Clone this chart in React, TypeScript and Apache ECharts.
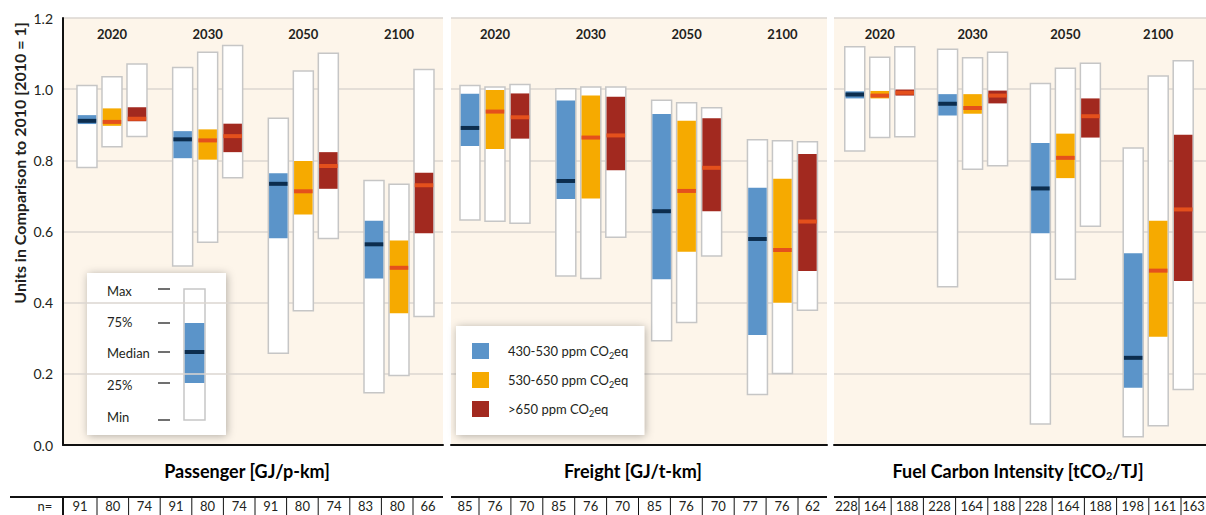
import React, { useEffect, useRef } from "react";
import * as echarts from "echarts";

const FONT = "Lato, 'Noto Sans', sans-serif";

const years = ["2020", "2030", "2050", "2100"];
const scenarioNames = ["430-530 ppm CO2eq", "530-650 ppm CO2eq", ">650 ppm CO2eq"];
const panelTitles = ["Passenger [GJ/p-km]", "Freight [GJ/t-km]", "Fuel Carbon Intensity [tCO2/TJ]"];
const yTicks = [0, 0.2, 0.4, 0.6, 0.8, 1.0, 1.2];

// each row: [min, 25%, median, 75%, max] for 2020, 2030, 2050, 2100
const passenger430 = [[0.780, 0.902, 0.911, 0.927, 1.010], [0.503, 0.806, 0.859, 0.882, 1.061], [0.258, 0.581, 0.734, 0.764, 0.918], [0.147, 0.468, 0.564, 0.630, 0.743]];
const passenger530 = [[0.838, 0.897, 0.908, 0.946, 1.035], [0.570, 0.802, 0.856, 0.887, 1.104], [0.377, 0.648, 0.713, 0.798, 1.051], [0.195, 0.370, 0.498, 0.575, 0.733]];
const passenger650 = [[0.867, 0.910, 0.917, 0.949, 1.071], [0.751, 0.823, 0.868, 0.903, 1.123], [0.580, 0.720, 0.784, 0.823, 1.101], [0.361, 0.595, 0.730, 0.765, 1.055]];

const freight430 = [[0.632, 0.840, 0.891, 0.987, 1.010], [0.475, 0.691, 0.742, 0.968, 1.001], [0.293, 0.466, 0.657, 0.930, 0.969], [0.142, 0.309, 0.579, 0.723, 0.858]];
const freight530 = [[0.629, 0.832, 0.937, 0.998, 1.006], [0.468, 0.693, 0.864, 0.982, 1.006], [0.344, 0.543, 0.714, 0.911, 0.962], [0.201, 0.400, 0.548, 0.748, 0.855]];
const freight650 = [[0.623, 0.861, 0.921, 0.988, 1.013], [0.584, 0.772, 0.870, 0.979, 1.006], [0.531, 0.657, 0.779, 0.918, 0.948], [0.379, 0.489, 0.628, 0.818, 0.852]];

const fuel430 = [[0.826, 0.974, 0.985, 0.994, 1.119], [0.445, 0.926, 0.959, 0.986, 1.112], [0.059, 0.595, 0.721, 0.849, 1.016], [0.023, 0.161, 0.245, 0.539, 0.835]];
const fuel530 = [[0.864, 0.974, 0.982, 0.995, 1.090], [0.775, 0.931, 0.947, 0.986, 1.088], [0.466, 0.750, 0.807, 0.875, 1.059], [0.054, 0.304, 0.490, 0.630, 1.037]];
const fuel650 = [[0.866, 0.982, 0.990, 0.999, 1.119], [0.785, 0.960, 0.982, 0.996, 1.104], [0.615, 0.864, 0.924, 0.974, 1.073], [0.156, 0.461, 0.662, 0.872, 1.080]];

const passengerN = [91, 80, 74, 91, 80, 74, 91, 80, 74, 83, 80, 66];
const freightN = [85, 76, 70, 85, 76, 70, 85, 76, 70, 77, 76, 62];
const fuelN = [228, 164, 188, 228, 164, 188, 228, 164, 188, 198, 161, 163];

const explainLabels = ["Max", "75%", "Median", "25%", "Min"];

const panelData = [
  [passenger430, passenger530, passenger650],
  [freight430, freight530, freight650],
  [fuel430, fuel530, fuel650],
];
const panelN = [passengerN, freightN, fuelN];

const COLORS = ["#5b94c9", "#f6aa00", "#a2291f"];
const MEDIAN_COLORS = ["#0c2d4e", "#e4501c", "#e4501c"];
const BG = "#fdf5ea";
const GRIDLINE = "#dbd6d0";
const BOX_BORDER = "#c6c6c6";
const INK = "#231f20";

// layout
const GRIDS = [
  { left: 63, width: 380, xmin: -0.512, xmax: 3.46 },
  { left: 451, width: 376, xmin: -0.459, xmax: 3.465 },
  { left: 834, width: 382, xmin: -0.493, xmax: 3.515 },
];
const TOP = 18;
const HEIGHT = 427;
const BOX_W = 20;
const MEMBER_GAP = 25;
const TABLE = [
  { start: 63, firstDiv: 97, step: 31.6, end: 443, lineStart: 10 },
  { start: 451, firstDiv: 479, step: 31.9, end: 827, lineStart: 451 },
  { start: 834, firstDiv: 859, step: 32.2, end: 1206, lineStart: 834 },
];
const TITLE_X = [247, 633, 1018];

const subRich = (size: number, lh: number) => ({
  n: { fontSize: size, fontFamily: FONT, fontWeight: "bold", color: INK, lineHeight: lh },
  s: { fontSize: Math.round(size * 0.6), fontFamily: FONT, fontWeight: "bold", color: INK, lineHeight: 10, verticalAlign: "bottom" },
});

function withSub(t: string, cls: string) {
  return t
    .split("CO2")
    .map((p) => (p ? `{${cls}|${p}}` : ""))
    .join(`{${cls}|CO}{s|2}`);
}

function makeRender(member: number, fill: string, medianFill: string) {
  return (params: any, api: any) => {
    const g = api.value(0);
    const cx = api.coord([g, 0])[0] + (member - 1) * MEMBER_GAP;
    const y = (v: number) => api.coord([g, v])[1];
    const yMin = y(api.value(1));
    const yQ1 = y(api.value(2));
    const yMd = y(api.value(3));
    const yQ3 = y(api.value(4));
    const yMax = y(api.value(5));
    const x0 = cx - BOX_W / 2;
    const children: any[] = [
      { type: "rect", shape: { x: x0, y: yMax, width: BOX_W, height: yMin - yMax }, style: { fill: "#ffffff", stroke: BOX_BORDER, lineWidth: 1.5 } },
      { type: "rect", shape: { x: x0 + 0.75, y: yQ3, width: BOX_W - 1.5, height: yQ1 - yQ3 }, style: { fill } },
      { type: "rect", shape: { x: x0 + 0.75, y: yMd - 2, width: BOX_W - 1.5, height: 4 }, style: { fill: medianFill } },
    ];
    if (member === 1) {
      children.push({
        type: "text",
        x: cx,
        y: params.coordSys.y + 16,
        style: { text: years[g], align: "center", verticalAlign: "middle", fontSize: 13, fontWeight: "bold", fontFamily: FONT, fill: INK },
      });
    }
    return { type: "group", children };
  };
}

function buildGraphics() {
  const els: any[] = [];
  // y axis name
  els.push({
    type: "text",
    x: 19,
    y: 163,
    rotation: Math.PI / 2,
    style: { text: "Units in Comparison to 2010 [2010 = 1]", align: "center", verticalAlign: "middle", fontSize: 16, fontWeight: "bold", fontFamily: FONT, fill: INK },
  });
  // bottom axis lines of the panels
  GRIDS.forEach((g) => {
    els.push({ type: "line", z: 50, shape: { x1: g.left, y1: TOP + HEIGHT, x2: g.left + g.width, y2: TOP + HEIGHT }, style: { stroke: "#111", lineWidth: 2 } });
  });
  // panel titles
  panelTitles.forEach((t, i) => {
    els.push({
      type: "text",
      x: TITLE_X[i],
      y: 471,
      style: { text: withSub(t, "n"), rich: subRich(18, 20), align: "center", verticalAlign: "middle", fontFamily: FONT },
    });
  });
  // n= table
  els.push({ type: "text", x: 45, y: 506, style: { text: "n=", align: "center", verticalAlign: "middle", fontSize: 13, fontFamily: FONT, fill: INK } });
  TABLE.forEach((tb, p) => {
    els.push({ type: "line", shape: { x1: tb.lineStart, y1: 497, x2: tb.end, y2: 497 }, style: { stroke: "#111", lineWidth: 2 } });
    if (p === 0) {
      els.push({ type: "line", shape: { x1: tb.start, y1: 497, x2: tb.start, y2: 515 }, style: { stroke: "#111", lineWidth: 2 } });
    }
    panelN[p].forEach((n, k) => {
      const left = k === 0 ? tb.start : tb.firstDiv + (k - 1) * tb.step;
      const right = k === 11 ? tb.end : tb.firstDiv + k * tb.step;
      if (k < 11) {
        els.push({ type: "line", shape: { x1: right, y1: 497, x2: right, y2: 515 }, style: { stroke: "#111", lineWidth: 1 } });
      }
      els.push({ type: "text", x: (left + right) / 2, y: 506, style: { text: String(n), align: "center", verticalAlign: "middle", fontSize: 13, fontFamily: FONT, fill: INK } });
    });
  });
  // box explanation legend
  const ex: any[] = [];
  ex.push({ type: "rect", shape: { x: 87, y: 273, width: 139, height: 162 }, style: { fill: "#ffffff", shadowBlur: 8, shadowColor: "rgba(0,0,0,0.3)", shadowOffsetX: 1, shadowOffsetY: 1 } });
  const lblY = [291, 322, 353, 385, 417];
  const dashY = [289, 323, 352, 383, 420];
  explainLabels.forEach((l, i) => {
    ex.push({ type: "text", x: 107, y: lblY[i], style: { text: l, align: "left", verticalAlign: "middle", fontSize: 13, fontFamily: FONT, fill: INK } });
    ex.push({ type: "line", shape: { x1: 158, y1: dashY[i], x2: 170, y2: dashY[i] }, style: { stroke: "#111", lineWidth: 1.2 } });
  });
  ex.push({ type: "rect", shape: { x: 184, y: 289, width: 21, height: 131 }, style: { fill: "#fff", stroke: BOX_BORDER, lineWidth: 1.5 } });
  ex.push({ type: "rect", shape: { x: 184.75, y: 323, width: 19.5, height: 60 }, style: { fill: COLORS[0] } });
  ex.push({ type: "rect", shape: { x: 184.75, y: 350, width: 19.5, height: 4 }, style: { fill: MEDIAN_COLORS[0] } });
  els.push({ type: "group", z: 100, children: ex });
  return els;
}

function buildOption() {
  const grid = GRIDS.map((g) => ({
    left: g.left,
    top: TOP,
    width: g.width,
    height: HEIGHT,
    show: true,
    backgroundColor: BG,
    borderWidth: 0,
    containLabel: false,
  }));
  const xAxis = GRIDS.map((g, i) => ({
    type: "value",
    gridIndex: i,
    min: g.xmin,
    max: g.xmax,
    position: "bottom",
    axisLine: { show: true, onZero: false, lineStyle: { color: "#111", width: 2 } },
    axisTick: { show: false },
    axisLabel: { show: false },
    splitLine: { show: false },
  }));
  const yAxis = GRIDS.map((g, i) => ({
    type: "value",
    gridIndex: i,
    min: yTicks[0],
    max: yTicks[yTicks.length - 1],
    interval: 0.2,
    position: "left",
    axisLine: { show: i === 0, onZero: false, lineStyle: { color: "#111", width: 2 } },
    axisTick: { show: false },
    axisLabel: {
      show: i === 0,
      formatter: (v: number) => v.toFixed(1),
      fontSize: 14,
      fontFamily: FONT,
      color: INK,
      margin: 10,
    },
    splitLine: { show: true, lineStyle: { color: GRIDLINE, width: 1.5 } },
  }));
  const series: any[] = [];
  panelData.forEach((scen, p) => {
    scen.forEach((rows, s) => {
      series.push({
        type: "custom",
        name: scenarioNames[s],
        xAxisIndex: p,
        yAxisIndex: p,
        coordinateSystem: "cartesian2d",
        itemStyle: { color: COLORS[s] },
        renderItem: makeRender(s, COLORS[s], MEDIAN_COLORS[s]),
        encode: { x: 0, y: [1, 2, 3, 4, 5] },
        data: rows.map((r, g) => [g, ...r]),
        clip: false,
        silent: true,
      });
    });
  });
  return {
    animation: false,
    grid,
    xAxis,
    yAxis,
    series,
    legend: {
      data: scenarioNames,
      orient: "vertical",
      left: 456,
      top: 326,
      padding: [17, 16, 17, 16],
      itemWidth: 17,
      itemHeight: 16,
      itemGap: 12,
      icon: "rect",
      backgroundColor: "#ffffff",
      shadowBlur: 8,
      shadowColor: "rgba(0,0,0,0.3)",
      shadowOffsetX: 1,
      shadowOffsetY: 1,
      selectedMode: false,
      z: 100,
      formatter: (name: string) => withSub(name, "t"),
      textStyle: {
        fontSize: 13,
        fontFamily: FONT,
        color: INK,
        padding: [0, 0, 0, 14],
        rich: {
          t: { fontSize: 13, fontFamily: FONT, color: INK, lineHeight: 18 },
          s: { fontSize: 9, fontFamily: FONT, color: INK, lineHeight: 10, verticalAlign: "bottom" },
        },
      },
    },
    graphic: buildGraphics(),
  };
}

export default function App() {
  const ref = useRef<HTMLDivElement>(null);
  useEffect(() => {
    if (!ref.current) return;
    const chart = echarts.init(ref.current, null, { renderer: "svg" });
    chart.setOption(buildOption() as any);
    return () => chart.dispose();
  }, []);
  return (
    <div
      ref={ref}
      style={{ position: "absolute", left: 0, top: 0, width: 1206, height: 515, background: "#ffffff" }}
    />
  );
}
